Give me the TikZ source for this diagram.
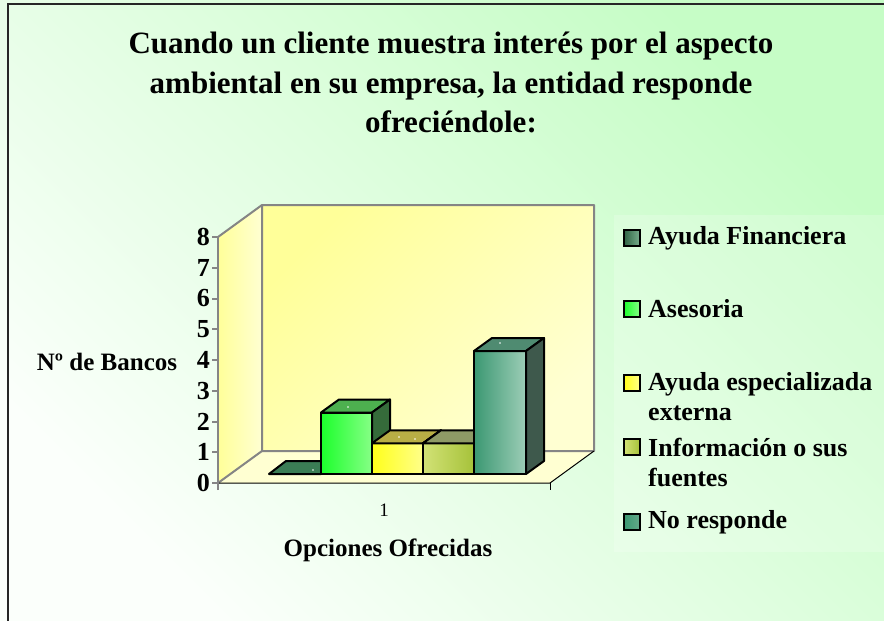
\documentclass[tikz,border=0pt]{standalone}
\usepackage{fontspec}
\setmainfont{Liberation Serif}
\usepackage{tikz}

\definecolor{bgGreen}{HTML}{C6FDC6}
\definecolor{bgLight}{HTML}{FBFFFB}
\definecolor{wallHi}{HTML}{FFFF99}
\definecolor{wallLo}{HTML}{FFFFD2}
\definecolor{wallGray}{HTML}{858585}
\definecolor{afTop}{HTML}{3B7D55}
\definecolor{afKey}{HTML}{3F8A5C}
\definecolor{asLeft}{HTML}{1CFF2C}
\definecolor{asRight}{HTML}{86FF86}
\definecolor{asTop}{HTML}{4DB04F}
\definecolor{asSide}{HTML}{356B3A}
\definecolor{yeLeft}{HTML}{FFFF1A}
\definecolor{yeRight}{HTML}{FFFF8A}
\definecolor{yeTop}{HTML}{B8AE45}
\definecolor{yeSide}{HTML}{8C8632}
\definecolor{inLeft}{HTML}{D2E276}
\definecolor{inRight}{HTML}{A6C23A}
\definecolor{inTop}{HTML}{8E9A66}
\definecolor{inSide}{HTML}{748436}
\definecolor{nrLeft}{HTML}{3B9872}
\definecolor{nrRight}{HTML}{9DCDB7}
\definecolor{nrTop}{HTML}{4F8B71}
\definecolor{nrSide}{HTML}{3E594C}
\definecolor{nrKey}{HTML}{64A88A}

\tikzset{
	wallline/.style={draw=wallGray, line width=2pt},
	barline/.style={draw=black, line width=2pt, line join=round},
	ticklabel/.style={font=\fontsize{26}{26}\selectfont\bfseries, anchor=east, inner sep=0pt},
	axislabel/.style={font=\fontsize{25}{25}\selectfont\bfseries, inner sep=0pt},
	titleline/.style={font=\fontsize{31}{31}\selectfont\bfseries, anchor=base, inner sep=0pt},
	legkey/.style={shape=rectangle, draw=black, line width=1.3pt, minimum size=16pt, inner sep=0pt},
	legtext/.style={font=\fontsize{26}{30}\selectfont\bfseries, anchor=west, align=left, inner sep=0pt}
}

\begin{document}
\begin{tikzpicture}[x=1pt,y=-1pt]
		\useasboundingbox (0,0) rectangle (884,621);
		\shade [bottom color=bgLight, top color=bgGreen, shading angle=-45] (0,0) rectangle (884,621);
		\draw [line width=1.5pt, black!85] (8,625) -- (8,4) -- (890,4);
		\node [titleline] (T1) at (451,53) {Cuando un cliente muestra interés por el aspecto};
		\node [titleline] (T2) at (451,93) {ambiental en su empresa, la entidad responde};
		\node [titleline] (T3) at (451,132) {ofreciéndole:};
		\shade [top color=wallHi, bottom color=wallLo, shading angle=45] (262,205) rectangle (594,451);
		\shade [left color=wallHi, right color=wallLo] (218,483) -- (262,451) -- (262,205) -- (218,237) -- cycle;
		\fill [wallLo] (218,483) -- (550,483) -- (594,451) -- (262,451) -- cycle;
		\draw [wallline, line join=round] (218,237) -- (262,205) -- (594,205) -- (594,451) -- (262,451) -- (262,205);
		\draw [wallline] (262,451) -- (218,483);
		\draw [black, line width=1pt] (218,483) -- (550,483) -- (594,451);
		\draw [black, line width=1pt] (550,483) -- (550,490);
		\draw [wallline] (218,490) -- (218,237);
		\draw [wallline] (212,483) -- (218,483);
		\draw [wallline] (212,452.25) -- (218,452.25);
		\draw [wallline] (212,421.5) -- (218,421.5);
		\draw [wallline] (212,390.75) -- (218,390.75);
		\draw [wallline] (212,360) -- (218,360);
		\draw [wallline] (212,329.25) -- (218,329.25);
		\draw [wallline] (212,298.5) -- (218,298.5);
		\draw [wallline] (212,267.75) -- (218,267.75);
		\draw [wallline] (212,237) -- (218,237);
		\node [ticklabel] (Y0) at (210,483) {0};
		\node [ticklabel] (Y1) at (210,452.25) {1};
		\node [ticklabel] (Y2) at (210,421.5) {2};
		\node [ticklabel] (Y3) at (210,390.75) {3};
		\node [ticklabel] (Y4) at (210,360) {4};
		\node [ticklabel] (Y5) at (210,329.25) {5};
		\node [ticklabel] (Y6) at (210,298.5) {6};
		\node [ticklabel] (Y7) at (210,267.75) {7};
		\node [ticklabel] (Y8) at (210,237) {8};
		\filldraw [barline, fill=afTop] (269,474) -- (321,474) -- (338,461) -- (286,461) -- cycle;
		\fill [white] (313,470) circle (0.8);
		\shadedraw [barline, left color=asLeft, right color=asRight] (321,474) rectangle (372,412.5);
		\filldraw [barline, fill=asTop] (321,412.5) -- (372,412.5) -- (390,399.5) -- (339,399.5) -- cycle;
		\filldraw [barline, fill=asSide] (372,474) -- (390,461) -- (390,399.5) -- (372,412.5) -- cycle;
		\fill [white] (348,407) circle (0.8);
		\shadedraw [barline, left color=yeLeft, right color=yeRight] (372,474) rectangle (423,443.25);
		\filldraw [barline, fill=yeTop] (372,443.25) -- (423,443.25) -- (441,430.25) -- (390,430.25) -- cycle;
		\filldraw [barline, fill=yeSide] (423,474) -- (441,461) -- (441,430.25) -- (423,443.25) -- cycle;
		\fill [white] (399,437) circle (0.8);
		\fill [white] (415,439) circle (0.8);
		\shadedraw [barline, left color=inLeft, right color=inRight] (423,474) rectangle (474,443.25);
		\filldraw [barline, fill=inTop] (423,443.25) -- (474,443.25) -- (492,430.25) -- (441,430.25) -- cycle;
		\filldraw [barline, fill=inSide] (474,474) -- (492,461) -- (492,430.25) -- (474,443.25) -- cycle;
		\shadedraw [barline, left color=nrLeft, right color=nrRight] (474,474) rectangle (526,351);
		\filldraw [barline, fill=nrTop] (474,351) -- (526,351) -- (544,338) -- (492,338) -- cycle;
		\filldraw [barline, fill=nrSide] (526,474) -- (544,461) -- (544,338) -- (526,351) -- cycle;
		\fill [white] (500,343) circle (0.8);
		\node [font=\fontsize{19}{19}\selectfont, anchor=base, inner sep=0pt] (X1) at (384,516) {1};
		\node [axislabel, anchor=base] (XT) at (388,556) {Opciones Ofrecidas};
		\node [axislabel] (YT) at (107,362) {Nº de Bancos};
		\fill [white, opacity=0.2] (614,215) rectangle (884,552);
		\node [legkey, left color=afTop!80!black, right color=afKey!70!white] (K1) at (632,238) {};
		\node [legtext] (L1) at (648,238) {Ayuda Financiera};
		\node [legkey, left color=asLeft, right color=asRight] (K2) at (632,309) {};
		\node [legtext] (L2) at (648,309) {Asesoria};
		\node [legkey, left color=yeLeft, right color=yeRight] (K3) at (632,383) {};
		\node [legtext] (L3) at (648,397) {Ayuda especializada\\externa};
		\node [legkey, left color=inLeft, right color=inRight] (K4) at (632,447) {};
		\node [legtext] (L4) at (648,463) {Información o sus\\fuentes};
		\node [legkey, left color=nrLeft, right color=nrKey] (K5) at (632,522) {};
		\node [legtext] (L5) at (648,522) {No responde};
	\end{tikzpicture}
\end{document}
